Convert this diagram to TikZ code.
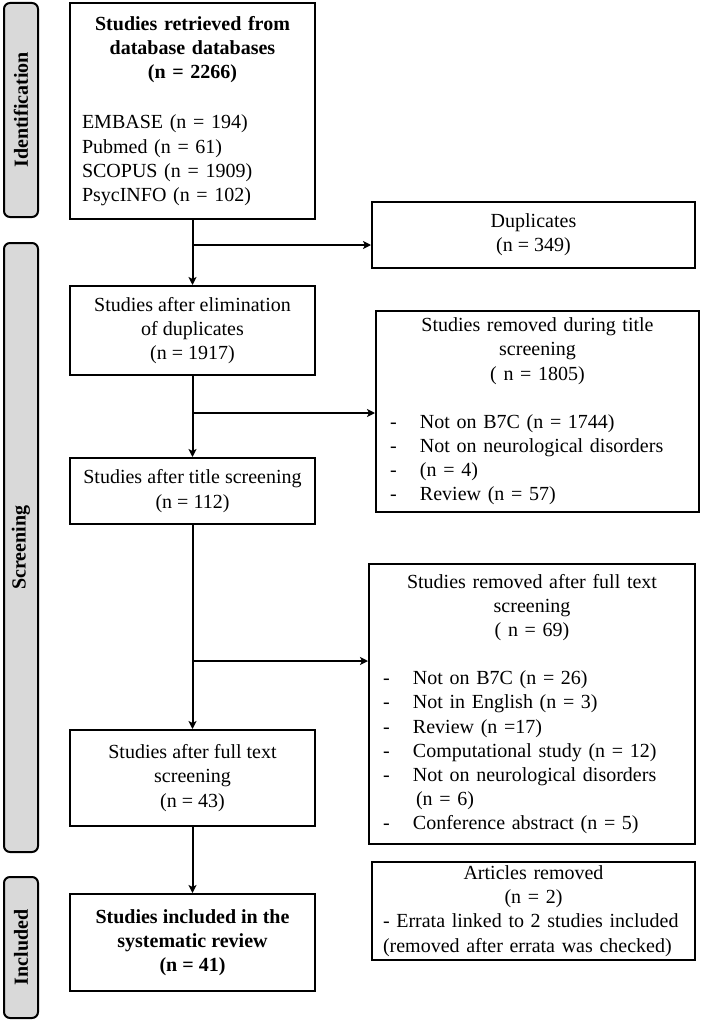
\documentclass[tikz,border=0pt]{standalone}
\usepackage{fontspec}
\setmainfont{Liberation Serif}
\usetikzlibrary{arrows.meta}
\definecolor{barfill}{RGB}{217,217,217}
\begin{document}
\begin{tikzpicture}[x=1pt,y=-1pt,
  txt/.style={font=\fontsize{20}{24.2}\selectfont},
  box/.style={txt,draw,line width=2pt,inner sep=0pt,align=center},
  listbox/.style={txt,draw,line width=2pt,inner ysep=0pt,inner xsep=0pt},
  phase/.style={txt,draw,line width=2pt,fill=barfill,rounded corners=6pt,rotate=90,inner sep=0pt,minimum height=34pt,font=\fontsize{20}{24}\selectfont\bfseries},
  conn/.style={line width=2pt},
  arr/.style={line width=2pt,-{Stealth[length=8pt,width=8pt,inset=2pt]}}]
\useasboundingbox (0,0) rectangle (702,1030);
% phase bars
\node[phase,minimum width=214pt] (idbar) at (21,110) {Identification};
\node[phase,minimum width=609pt] (scrbar) at (21,547.5) {Screening};
\node[phase,minimum width=141pt] (incbar) at (21,947.5) {Included};
% main column
\node[listbox,minimum width=245pt,minimum height=216pt,text width=221pt] (b1) at (192.5,111)
 {\parindent=0pt{\centering\bfseries Studies retrieved from\\database databases\\(n = 2266)\par}\vspace{26pt}{\raggedright EMBASE (n = 194)\\Pubmed (n = 61)\\SCOPUS (n = 1909)\\PsycINFO (n = 102)\par}};
\node[box,minimum width=245pt,minimum height=89pt] (b2) at (192.5,330.5) {Studies after elimination\\of duplicates\\(n = 1917)};
\node[box,minimum width=245pt,minimum height=66pt] (b3) at (192.5,491) {Studies after title screening\\(n = 112)};
\node[box,minimum width=245pt,minimum height=96pt] (b4) at (192.5,778) {Studies after full text\\screening\\(n = 43)};
\node[box,minimum width=245pt,minimum height=97pt,font=\fontsize{20}{24.2}\selectfont\bfseries] (b5) at (192.5,942.5) {Studies included in the\\systematic review\\(n = 41)};
% right column
\node[box,minimum width=323pt,minimum height=66pt] (dup) at (533.5,235) {Duplicates\\(n = 349)};
\node[listbox,minimum width=323pt,minimum height=201pt,text width=295pt] (tr) at (537.5,411.5)
 {\parindent=0pt{\centering Studies removed during title\\screening\\( n = 1805)\par}\vspace{24pt}{\raggedright
 \makebox[30pt][l]{-}Not on B7C (n = 1744)\\
 \makebox[30pt][l]{-}Not on neurological disorders\\
 \makebox[30pt][l]{-}(n = 4)\\
 \makebox[30pt][l]{-}Review (n = 57)\par}};
\node[listbox,minimum width=326pt,minimum height=280pt,text width=298pt] (fr) at (532,704)
 {\parindent=0pt{\centering Studies removed after full text\\screening\\( n = 69)\par}\vspace{24pt}{\raggedright
 \makebox[30pt][l]{-}Not on B7C (n = 26)\\
 \makebox[30pt][l]{-}Not in English (n = 3)\\
 \makebox[30pt][l]{-}Review (n =17)\\
 \makebox[30pt][l]{-}Computational study (n = 12)\\
 \makebox[30pt][l]{-}Not on neurological disorders\\
 \makebox[33pt][l]{}(n = 6)\\
 \makebox[30pt][l]{-}Conference abstract (n = 5)\par}};
\node[listbox,minimum width=323pt,minimum height=98pt,text width=301pt] (ar) at (533.5,911)
 {\parindent=0pt{\centering Articles removed\\(n = 2)\par}{\raggedright - Errata linked to 2 studies included\\(removed after errata was checked)\par}};
% connectors
\coordinate (j1) at (192,245);
\coordinate (j2) at (192,413);
\coordinate (j3) at (192,661);
\draw[arr] (b1.south) -- (b2.north);
\draw[arr] (b2.south) -- (b3.north);
\draw[arr] (b3.south) -- (b4.north);
\draw[arr] (b4.south) -- (b5.north);
\draw[arr] (j1) -- (j1 -| dup.west);
\draw[arr] (j2) -- (j2 -| tr.west);
\draw[arr] (j3) -- (j3 -| fr.west);
\end{tikzpicture}
\end{document}
